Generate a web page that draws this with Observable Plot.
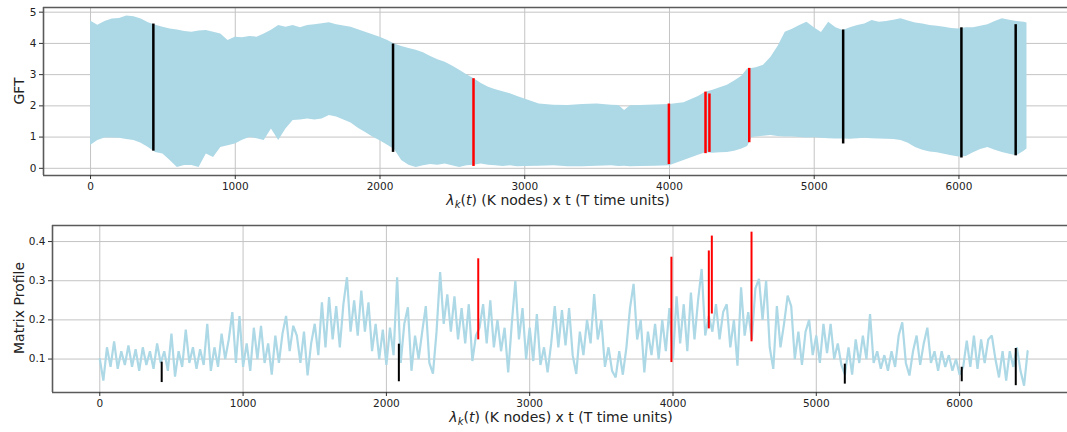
<!DOCTYPE html>
<html><head><meta charset="utf-8">
<script src="https://cdn.jsdelivr.net/npm/d3@7"></script>
<script src="https://cdn.jsdelivr.net/npm/@observablehq/plot@0.6"></script>
<style>body{margin:0;background:#fff}#chart svg{display:block}</style>
</head><body><div id="chart"></div>
<script>
// ---- top panel: GFT envelope (lower / upper edge of the dense oscillation) ----
const gftX = [0,50,100,150,200,250,300,350,400,450,500,550,600,650,700,750,800,850,900,950,
  1000,1050,1100,1150,1200,1250,1300,1350,1400,1450,1500,1550,1600,1650,1700,1750,1800,1850,1900,1950,
  2000,2050,2100,2150,2200,2250,2300,2350,2400,2450,2500,2550,2600,2650,2700,2750,2800,2850,2900,2950,
  3000,3100,3200,3300,3400,3500,3600,3650,3690,3730,3800,3900,4000,4100,4200,
  4250,4300,4350,4400,4450,4500,4540,4570,4600,4650,4700,4750,4800,4850,4900,4950,
  5000,5050,5100,5150,5200,5250,5300,5350,5400,5450,5500,5550,5600,5650,5700,5750,5800,5850,5900,5950,
  6000,6050,6100,6150,6200,6250,6300,6350,6400,6450,6470];
const gftUpper = [4.72,4.58,4.70,4.78,4.80,4.88,4.85,4.78,4.66,4.58,4.52,4.46,4.43,4.38,4.36,4.40,4.41,4.36,4.30,4.09,
  4.20,4.18,4.22,4.20,4.30,4.42,4.57,4.52,4.57,4.50,4.57,4.60,4.63,4.66,4.60,4.56,4.52,4.44,4.36,4.28,
  4.20,4.10,3.98,3.90,3.84,3.78,3.70,3.58,3.48,3.40,3.28,3.14,3.00,2.87,2.72,2.60,2.52,2.45,2.39,2.30,
  2.22,2.06,2.02,2.01,2.04,2.06,2.02,2.01,1.85,2.00,2.01,2.03,2.04,2.10,2.30,
  2.44,2.50,2.58,2.66,2.80,2.95,3.18,3.20,3.22,3.30,3.55,3.90,4.36,4.45,4.57,4.68,
  4.50,4.35,4.68,4.50,4.41,4.50,4.57,4.62,4.73,4.68,4.70,4.74,4.79,4.72,4.65,4.62,4.57,4.55,4.52,4.48,
  4.46,4.50,4.50,4.55,4.60,4.70,4.79,4.74,4.70,4.68,4.65];
const gftLower = [0.73,0.89,0.97,0.97,0.96,0.92,0.89,0.80,0.67,0.51,0.46,0.25,0.03,0.09,0.09,0.03,0.46,0.35,0.67,0.72,
  0.78,0.90,0.99,0.95,0.89,1.26,0.89,1.26,1.53,1.55,1.58,1.55,1.58,1.69,1.64,1.55,1.45,1.28,1.15,1.00,
  0.88,0.75,0.60,0.25,0.10,0.03,0.08,0.12,0.10,0.14,0.08,0.03,0.08,0.10,0.14,0.10,0.08,0.06,0.08,0.05,
  0.06,0.07,0.08,0.05,0.05,0.07,0.08,0.06,0.07,0.05,0.06,0.07,0.08,0.25,0.42,
  0.50,0.48,0.50,0.51,0.55,0.62,0.70,0.99,1.00,1.03,1.05,1.02,1.00,1.00,0.99,0.97,
  0.98,0.96,0.95,0.94,0.94,0.93,0.95,0.96,0.95,0.94,0.93,0.92,0.89,0.80,0.67,0.58,0.52,0.50,0.45,0.40,
  0.36,0.38,0.50,0.60,0.67,0.58,0.51,0.45,0.40,0.55,0.62];

// highlighted windows in the GFT panel
const gftSegX     = [434, 2090, 2646, 3996, 4249, 4276, 4551, 5200, 6017, 6392];
const gftSegLo    = [0.55, 0.51, 0.06, 0.12, 0.47, 0.51, 0.82, 0.78, 0.33, 0.40];
const gftSegHi    = [4.62, 3.98, 2.87, 2.06, 2.44, 2.38, 3.20, 4.43, 4.50, 4.60];
const gftSegColor = ["black","black","red","red","red","red","red","black","black","black"];

// ---- bottom panel: matrix profile, one sample every 25 time units ----
const mpStep = 25;
const mpValues = [
  0.10,0.045,0.13,0.08,0.145,0.075,0.12,0.085,0.135,0.08,0.125,0.07,0.13,0.085,0.12,0.075,0.14,0.09,0.12,0.07,
  0.165,0.055,0.12,0.08,0.175,0.09,0.13,0.075,0.125,0.085,0.19,0.07,0.13,0.08,0.165,0.10,0.15,0.22,0.09,0.21,
  0.08,0.14,0.07,0.18,0.10,0.185,0.09,0.14,0.06,0.16,0.09,0.165,0.21,0.12,0.185,
  0.16,0.09,0.17,0.058,0.14,0.19,0.11,0.245,0.13,0.258,0.15,0.235,0.13,0.24,0.309,0.17,0.25,0.16,0.275,0.17,
  0.245,0.12,0.19,0.10,0.175,0.085,0.18,0.11,0.309,0.09,0.19,0.232,0.07,0.16,0.10,0.17,0.235,0.09,0.063,0.17,
  0.322,0.19,0.265,0.17,0.26,0.15,0.23,0.14,0.24,0.095,0.16,0.18,0.24,0.14,0.25,0.13,
  0.20,0.12,0.18,0.066,0.19,0.30,0.15,0.23,0.10,0.18,0.095,0.215,0.085,0.13,0.066,0.14,0.235,0.13,0.225,0.135,
  0.23,0.11,0.062,0.17,0.11,0.20,0.14,0.266,0.15,0.20,0.08,0.13,0.07,0.053,0.12,0.06,0.13,0.23,0.292,0.15,
  0.20,0.066,0.17,0.11,0.19,0.10,0.20,0.12,0.23,0.10,0.26,0.14,0.24,0.12,0.27,0.15,
  0.25,0.33,0.16,0.21,0.17,0.24,0.15,0.22,0.24,0.13,0.20,0.083,0.283,0.16,0.22,0.15,0.28,0.305,0.20,0.30,
  0.13,0.075,0.235,0.13,0.19,0.262,0.235,0.10,0.17,0.085,0.17,0.20,0.11,0.16,0.09,0.19,0.115,0.19,0.10,0.14,
  0.085,0.06,0.13,0.06,0.15,0.09,0.16,0.10,0.215,0.09,0.12,0.075,0.11,0.07,0.12,0.08,
  0.16,0.194,0.09,0.058,0.12,0.16,0.085,0.14,0.18,0.09,0.12,0.07,0.12,0.08,0.11,0.07,0.10,0.06,0.08,0.147,
  0.08,0.16,0.075,0.15,0.09,0.15,0.16,0.10,0.053,0.12,0.045,0.12,0.08,0.13,0.07,0.032,0.12];

const mpSegX     = [432, 2087, 2641, 3989, 4250, 4271, 4548, 5199, 6015, 6392];
const mpSegLo    = [0.040, 0.042, 0.149, 0.091, 0.177, 0.215, 0.144, 0.036, 0.042, 0.032];
const mpSegHi    = [0.092, 0.138, 0.356, 0.360, 0.376, 0.414, 0.424, 0.087, 0.079, 0.127];
const mpSegColor = ["black","black","red","red","red","red","red","black","black","black"];

// ---- ticks & labels ----
const xTicks = [0, 1000, 2000, 3000, 4000, 5000, 6000];
const gftTicks = [0, 1, 2, 3, 4, 5];
const mpTicks = [0.1, 0.2, 0.3, 0.4];
const gftLabel = "GFT";
const mpLabel = "Matrix Profile";

// ---- build tables ----
const gftTable = gftX.map((x, i) => ({x, lo: gftLower[i], hi: gftUpper[i]}));
const gftSegs = gftSegX.map((x, i) => ({x, lo: gftSegLo[i], hi: gftSegHi[i], c: gftSegColor[i]}));
const mpTable = mpValues.map((v, i) => ({x: i * mpStep, v}));
const mpSegs = mpSegX.map((x, i) => ({x, lo: mpSegLo[i], hi: mpSegHi[i], c: mpSegColor[i]}));

const W = 1067, H = 216;
const gridStyle = {stroke: "#c4c4c4", strokeOpacity: 1, strokeWidth: 1};
const spine = {stroke: "#5a5a5a", strokeWidth: 1.6};
const font = {fontFamily: "DejaVu Sans", fontSize: "10.5px", color: "#222", background: "white", overflow: "hidden"};
const fmtInt = d => String(d);

function frameMarks(xd, yd) {
  return [
    Plot.ruleY([yd[0], yd[1]], {...spine}),
    Plot.ruleX([xd[0]], {...spine})
  ];
}

const gftXD = [-325, 6750], gftYD = [-0.23, 5.15];
const topPlot = Plot.plot({
  width: W, height: H,
  marginLeft: 43, marginRight: 0, marginTop: 7, marginBottom: 41,
  x: {domain: gftXD},
  y: {domain: gftYD},
  style: font,
  marks: [
    Plot.gridX(xTicks, gridStyle),
    Plot.gridY(gftTicks, gridStyle),
    Plot.areaY(gftTable, {x: "x", y1: "lo", y2: "hi", fill: "#add8e6", curve: "linear"}),
    Plot.ruleX(gftSegs, {x: "x", y1: "lo", y2: "hi", stroke: "c", strokeWidth: 2.5}),
    ...frameMarks(gftXD, gftYD),
    Plot.axisX(xTicks, {tickSize: 4, tickPadding: 3, label: null, stroke: "#333", tickFormat: fmtInt}),
    Plot.axisY(gftTicks, {tickSize: 4, tickPadding: 3, label: null, stroke: "#333", tickFormat: fmtInt})
  ]
});

const mpXD = [-330, 6753], mpYD = [0.0146, 0.441];
const botPlot = Plot.plot({
  width: W, height: H,
  marginLeft: 52, marginRight: 0, marginTop: 9, marginBottom: 40,
  x: {domain: mpXD},
  y: {domain: mpYD},
  style: font,
  marks: [
    Plot.gridX(xTicks, gridStyle),
    Plot.gridY(mpTicks, gridStyle),
    Plot.lineY(mpTable, {x: "x", y: "v", stroke: "#add8e6", strokeWidth: 2.2, strokeLinejoin: "miter", strokeMiterlimit: 2}),
    Plot.ruleX(mpSegs, {x: "x", y1: "lo", y2: "hi", stroke: "c", strokeWidth: 2}),
    ...frameMarks(mpXD, mpYD),
    Plot.axisX(xTicks, {tickSize: 4, tickPadding: 3, label: null, stroke: "#333", tickFormat: fmtInt}),
    Plot.axisY(mpTicks, {tickSize: 4, tickPadding: 3, label: null, stroke: "#333", tickFormat: d => d.toFixed(1)})
  ]
});

function xLabel(svg, cx, y) {
  const t = d3.select(svg).append("text")
    .attr("x", cx).attr("y", y).attr("text-anchor", "middle")
    .attr("font-family", "DejaVu Sans").attr("font-size", 14).attr("fill", "#222");
  t.append("tspan").attr("font-style", "italic").text("λ");
  t.append("tspan").attr("font-style", "italic").attr("font-size", 10).attr("dy", 3).text("k");
  t.append("tspan").attr("dy", -3).text("(");
  t.append("tspan").attr("font-style", "italic").text("t");
  t.append("tspan").text(") (K nodes) x t (T time units)");
}
function yLabel(svg, x, cy, s) {
  d3.select(svg).append("text")
    .attr("transform", `translate(${x},${cy}) rotate(-90)`)
    .attr("text-anchor", "middle")
    .attr("font-family", "DejaVu Sans").attr("font-size", 14).attr("fill", "#222")
    .text(s);
}
xLabel(topPlot, 558, 205);
yLabel(topPlot, 24, 91, gftLabel);
xLabel(botPlot, 561, 206);
yLabel(botPlot, 24, 92, mpLabel);

document.getElementById("chart").append(topPlot, botPlot);
</script></body></html>
